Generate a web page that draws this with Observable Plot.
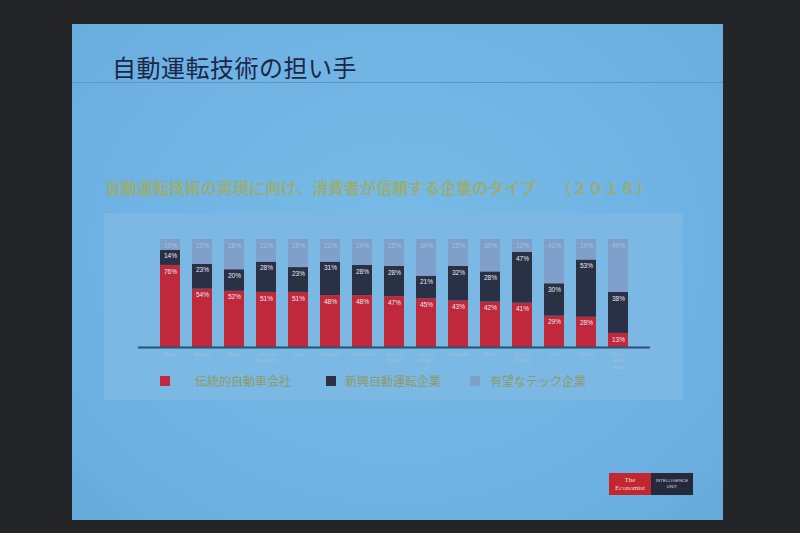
<!DOCTYPE html>
<html>
<head>
<meta charset="utf-8">
<script src="https://cdn.jsdelivr.net/npm/d3@7"></script>
<script src="https://cdn.jsdelivr.net/npm/@observablehq/plot@0.6"></script>
<style>
  html, body { margin:0; padding:0; }
  body { width:800px; height:533px; background:#242528; position:relative; overflow:hidden;
         font-family:"Noto Sans CJK JP","Noto Sans",sans-serif; }
  #slide { position:absolute; left:72px; top:24px; width:651px; height:496px;
           background:radial-gradient(ellipse at 50% 45%, #78bbe7 0%, #6eb3e3 60%, #66abdc 100%); }
  #title { position:absolute; left:112px; top:52px; font-size:24px; color:#1d2747; letter-spacing:0.5px; line-height:30px; }
  #rule { position:absolute; left:72px; top:82px; width:651px; height:1px; background:#5a97c4; }
  #subtitle { position:absolute; left:105px; top:176px; font-size:16px; font-weight:bold; color:#98ad78; white-space:pre; line-height:22px; }
  #panel { position:absolute; left:104px; top:213px; width:579px; height:187px; background:#7bb8e3; }
  #chart { position:absolute; left:104px; top:213px; }
  #legend { position:absolute; top:374px; left:0; width:800px; height:16px; font-size:12px; color:#8d9c66; }
  .sw { position:absolute; top:2px; width:10px; height:10px; }
  .lt { position:absolute; top:-2px; line-height:18px; }
  #logo { position:absolute; left:609px; top:473px; width:84px; height:22px; }
  #logo .l { position:absolute; left:0; top:0; width:42px; height:22px; background:#c2262f; color:#f3d6d6;
             font-family:"Liberation Serif",serif; font-size:7px; line-height:8px; text-align:center; padding-top:3px; box-sizing:border-box; }
  #logo .r { position:absolute; left:42px; top:0; width:42px; height:22px; background:#252a3b; color:#d9dde6;
             font-family:"Liberation Sans",sans-serif; font-size:4.2px; line-height:6px; text-align:center; padding-top:5px; box-sizing:border-box; letter-spacing:0.2px; }
</style>
</head>
<body>
<div id="slide"></div>
<div id="title">自動運転技術の担い手</div>
<div id="rule"></div>
<div id="subtitle">自動運転技術の実現に向け、消費者が信頼する企業のタイプ　 （２０１８）</div>
<div id="panel"></div>
<div id="chart"></div>
<div id="legend"></div>
<div id="logo"><div class="l">The<br>Economist</div><div class="r">INTELLIGENCE<br>UNIT</div></div>
<script>
const countries = ["Japan","Mexico","Spain","United Kingdom","Italy","Belgium","Germany","United States","South America","Canada","France","South Korea","India","China","Southeast Asia"];
const countryLabels = ["Japan","Mexico","Spain","United\nKingdom","Italy","Belgium","Germany","United\nStates","South\nAmeric\na","Canada","Franc\ne","South\nKorea","India","China","South\neast\nAsia"];
const types = ["伝統的自動車会社","新興自動運転企業","有望なテック企業"];
const colors = ["#c0283b","#2a3145","#809fcb"];
const traditional = [76,54,52,51,51,48,48,47,45,43,42,41,29,28,13];
const newAV      = [14,23,20,28,23,31,28,28,21,32,28,47,30,53,38];
const tech       = [10,23,28,21,26,21,24,25,34,25,30,12,41,19,49];

const series = [traditional, newAV, tech];
const data = [];
countries.forEach((c, i) => {
  types.forEach((t, k) => data.push({country: c, type: t, value: series[k][i]}));
});

const chart = Plot.plot({
  width: 579,
  height: 160,
  marginLeft: 45,
  marginRight: 44,
  marginTop: 26,
  marginBottom: 26,
  style: {background: "transparent", overflow: "visible"},
  x: {domain: countries, paddingInner: 0.38, paddingOuter: 0.19, axis: null},
  y: {domain: [0, 100], axis: null},
  color: {domain: types, range: colors},
  marks: [
    Plot.barY(data, {x: "country", y: "value", fill: "type", order: types}),
    Plot.text(data, Plot.stackY2({x: "country", y: "value", z: "type", order: types,
      text: d => d.value + "%", fill: d => d.type === types[2] ? "#a9c0dd" : "#e8eaf0",
      fontSize: 6.5, dy: 6, fontFamily: "Liberation Sans, sans-serif"})),
    Plot.ruleY([0], {stroke: "#2d4f78", strokeWidth: 2, dx: -11, insetRight: -22}),
    Plot.text(countries, {x: d => d, y: () => 0, text: (d, i) => countryLabels[i],
      lineAnchor: "top", dy: 4, fontSize: 5.5, fill: "#9cc0e0", lineHeight: 1.15,
      fontFamily: "Liberation Sans, sans-serif"})
  ]
});
document.getElementById("chart").appendChild(chart);

const legend = document.getElementById("legend");
const legendPos = [[160,195],[326,345],[470,490]];
types.forEach((t, k) => {
  const sw = document.createElement("div");
  sw.className = "sw"; sw.style.left = legendPos[k][0] + "px"; sw.style.background = colors[k];
  legend.appendChild(sw);
  const lt = document.createElement("div");
  lt.className = "lt"; lt.style.left = legendPos[k][1] + "px"; lt.textContent = t;
  legend.appendChild(lt);
});
</script>
</body>
</html>
